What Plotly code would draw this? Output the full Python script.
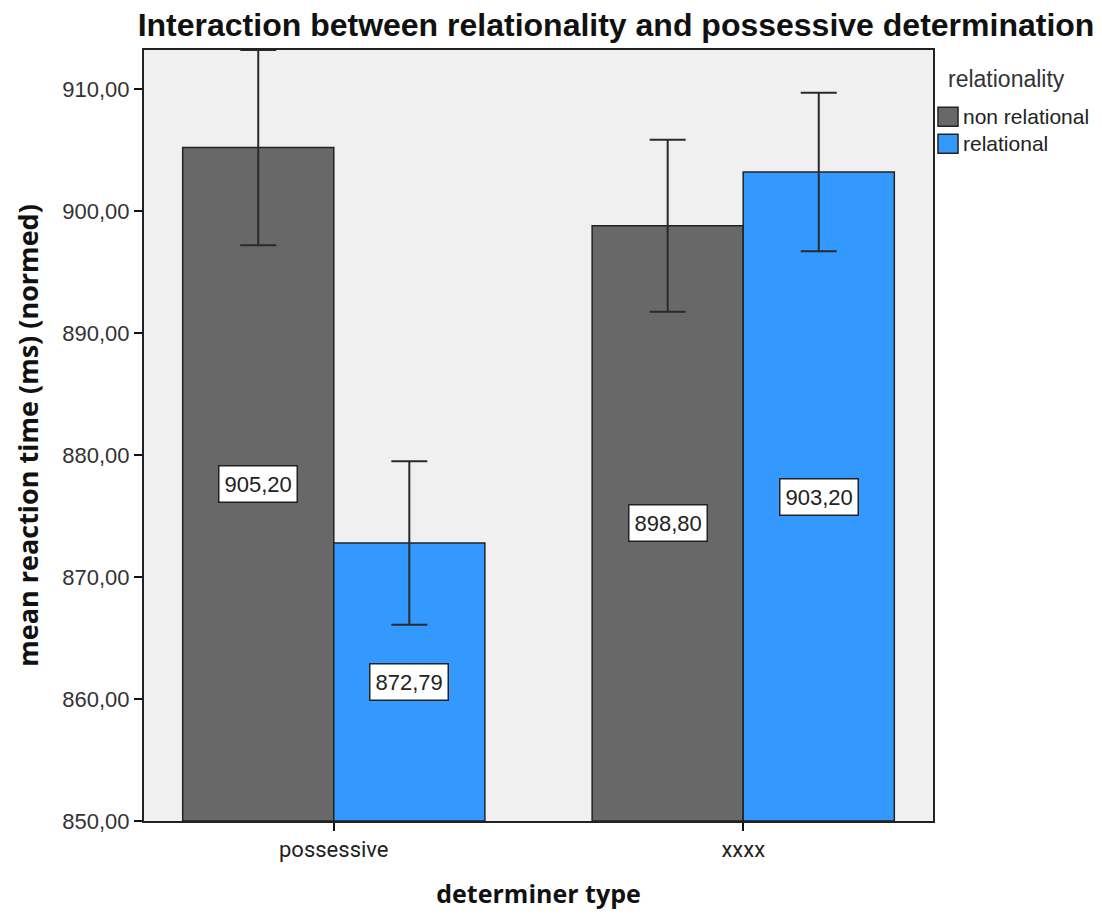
import plotly.graph_objects as go

# Mean reaction times by determiner type and relationality
categories = ["possessive", "xxxx"]
groups = ["non relational", "relational"]
means_non_relational = [905.20, 898.80]
means_relational = [872.79, 903.20]
err_non_relational = [8.00, 7.05]
err_relational = [6.70, 6.50]
y_ticks = [850, 860, 870, 880, 890, 900, 910]
legend_title = "relationality"

colors = {"non relational": "#686868", "relational": "#3399FF"}
series = {
    "non relational": (means_non_relational, err_non_relational),
    "relational": (means_relational, err_relational),
}

W, H = 1102, 916
M = dict(l=144, r=169, t=50, b=93)
BARGAP = 0.262
x_pos = list(range(len(categories)))


def px_to_paper(px, py):
    """Convert page pixel coordinates to paper fractions of the plot area."""
    pw = W - M["l"] - M["r"]
    ph = H - M["t"] - M["b"]
    return (px - M["l"]) / pw, (H - M["b"] - py) / ph


fig = go.Figure()
for name in groups:
    vals, errs = series[name]
    fig.add_trace(go.Bar(
        name=name,
        x=x_pos,
        y=[v - 850 for v in vals],
        base=850,
        marker=dict(color=colors[name], line=dict(color="#222222", width=1.5)),
        error_y=dict(type="data", array=errs, color="#2a2a2a", thickness=2, width=18),
        hoverinfo="skip",
        showlegend=False,
    ))

# value labels at the middle of each bar
bar_w = (1 - BARGAP) / len(groups)
for gi, name in enumerate(groups):
    vals, _ = series[name]
    offset = (gi - (len(groups) - 1) / 2) * bar_w
    for xi, v in zip(x_pos, vals):
        fig.add_annotation(
            x=xi + offset, y=(850 + v) / 2,
            text=f"{v:.2f}".replace(".", ","),
            showarrow=False,
            font=dict(family="Liberation Sans, Arial", size=22, color="#222222"),
            bgcolor="white", bordercolor="#222222", borderwidth=1.5, borderpad=5,
        )

# legend block to the right of the plot
tx, ty = px_to_paper(946, 79)
fig.add_annotation(
    xref="paper", yref="paper", x=tx, y=ty, xanchor="left", yanchor="middle",
    text=legend_title, showarrow=False,
    font=dict(family="Liberation Sans, Arial", size=23, color="#333333"),
)
for i, name in enumerate(groups):
    cy = 117 + i * 27
    x0, y0 = px_to_paper(938, cy + 9.5)
    x1, y1 = px_to_paper(958, cy - 9.5)
    fig.add_shape(
        type="rect", xref="paper", yref="paper", x0=x0, y0=y0, x1=x1, y1=y1,
        fillcolor=colors[name], line=dict(color="#222222", width=1.5),
    )
    lx, ly = px_to_paper(961, cy)
    fig.add_annotation(
        xref="paper", yref="paper", x=lx, y=ly, xanchor="left", yanchor="middle",
        text=name, showarrow=False,
        font=dict(family="Liberation Sans, Arial", size=21, color="#222222"),
    )

fig.update_layout(
    width=W, height=H,
    barmode="group", bargap=BARGAP, bargroupgap=0,
    separators=",.",
    paper_bgcolor="white", plot_bgcolor="#F0F0F0",
    margin=M,
    showlegend=False,
    title=dict(
        text="<b>Interaction between relationality and possessive determination</b>",
        font=dict(family="Liberation Sans, Arial", size=32, color="#111111"),
        x=0.559, xanchor="center", y=0.973, yanchor="middle",
    ),
    xaxis=dict(
        range=[-0.4635, 1.4635],
        tickmode="array", tickvals=x_pos, ticktext=categories,
        ticks="outside", ticklen=8, tickwidth=2, tickcolor="#111111",
        showline=True, linecolor="#222222", linewidth=2, mirror=True,
        showgrid=False, zeroline=False,
        tickfont=dict(family="Roboto, Liberation Sans", size=22, color="#222222"),
        title=dict(text="<b>determiner type</b>",
                   font=dict(family="Open Sans, DejaVu Sans", size=25, color="#111111"),
                   standoff=24),
    ),
    yaxis=dict(
        range=[850, 913.2],
        tickmode="array", tickvals=y_ticks, tickformat=".2f",
        ticks="outside", ticklen=8, tickwidth=2, tickcolor="#111111",
        showline=True, linecolor="#222222", linewidth=2, mirror=True,
        showgrid=False, zeroline=False,
        tickfont=dict(family="Liberation Sans, Arial", size=22, color="#333333"),
        title=dict(text="<b>mean reaction time (ms) (normed)</b>",
                   font=dict(family="Open Sans, DejaVu Sans", size=27, color="#111111"),
                   standoff=16),
    ),
)

fig.write_html("out.html")
